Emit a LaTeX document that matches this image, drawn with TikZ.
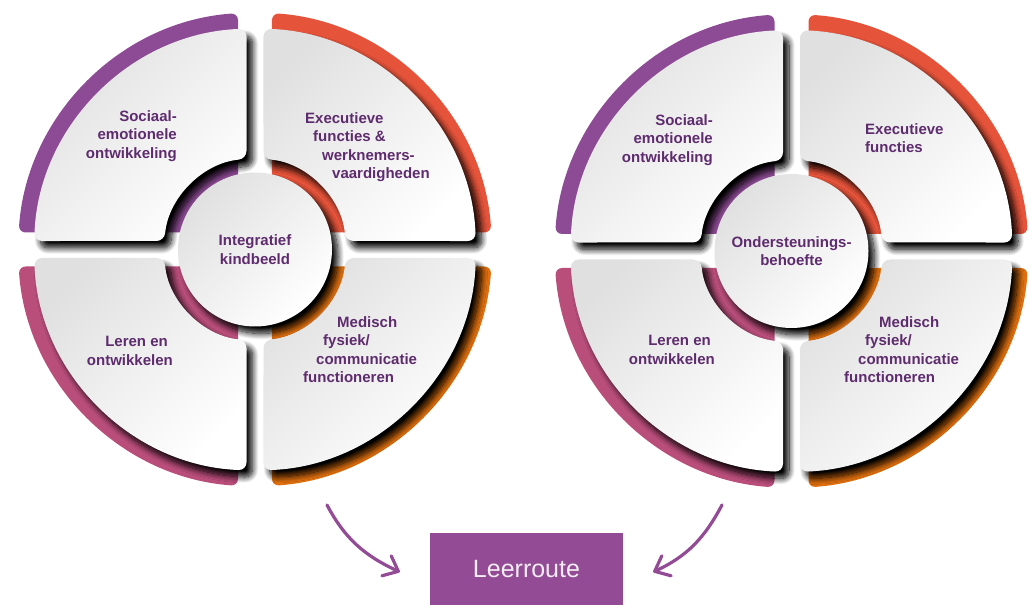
\documentclass[tikz,border=0pt]{standalone}
\usepackage{fontspec}
\setmainfont{Liberation Sans}
\usetikzlibrary{shadows.blur,arrows.meta,calc}
\definecolor{cpurple}{HTML}{8E4B95}
\definecolor{cred}{HTML}{E5533A}
\definecolor{cpink}{HTML}{B94E7B}
\definecolor{corange}{HTML}{E0700F}
\definecolor{ctext}{HTML}{5E2C6E}
\definecolor{cbox}{HTML}{924B94}
\newcommand\lblfont{\fontsize{15}{18.6}\selectfont\bfseries}
\newcommand\quarterpath[6]{%
  \pgfmathsetmacro\qao{asin(#3/#5)}%
  \pgfmathsetmacro\qai{asin(#3/#4)}%
  \path[#6] ($(#1)+(#2+\qao:#5pt)$) arc[start angle=#2+\qao, end angle=#2+90-\qao, radius=#5pt]
     -- ($(#1)+(#2+90-\qai:#4pt)$) arc[start angle=#2+90-\qai, end angle=#2+\qai, radius=#4pt] -- cycle;%
}
\tikzset{
  darkshadow/.style={blur shadow={shadow xshift=6pt, shadow yshift=-7pt, shadow blur radius=6pt, shadow opacity=100, shadow blur steps=14}},
  band/.style={fill=#1, rounded corners=7pt},
  whiteq/.style={rounded corners=8pt, top color=black!12, bottom color=white, shading angle=45, darkshadow},
  hub/.style={circle, minimum size=154pt, inner sep=0pt, align=center, font=\lblfont, text=ctext,
    top color=black!12, bottom color=white, shading angle=45, darkshadow},
  lbl/.style={inner sep=0pt, font=\lblfont, text=ctext},
  arr/.style={draw=cbox, line width=3.2pt, line cap=round, -{Straight Barb[round, length=13pt, width=22pt]}},
}
\begin{document}
\begin{tikzpicture}[x=1pt,y=1pt]
\useasboundingbox (0,0) rectangle (1031,605);
\coordinate (C1) at (255,355.5);
\coordinate (C2) at (791.5,354);
% ---- left diagram ----
\quarterpath{C1}{90}{17}{70}{237}{band=cpurple}
\quarterpath{C1}{0}{17}{70}{237}{band=cred}
\quarterpath{C1}{180}{17}{70}{237}{band=cpink}
\quarterpath{C1}{270}{17}{70}{237}{band=corange}
\quarterpath{C1}{90}{8.5}{91}{221}{whiteq}
\quarterpath{C1}{0}{8.5}{91}{221}{whiteq}
\quarterpath{C1}{180}{8.5}{91}{221}{whiteq}
\quarterpath{C1}{270}{8.5}{91}{221}{whiteq}
\node[hub] (ctr1) at (C1) {Integratief\\kindbeeld};
\node[lbl, anchor=north east, align=right] (soc1) at (177,495) {Sociaal-\\emotionele\\ontwikkeling};
\node[lbl, anchor=north west, align=left] (exe1) at (305,493) {Executieve\\\hspace*{8pt}functies \&\\\hspace*{17pt}werknemers-\\\hspace*{27pt}vaardigheden};
\node[lbl, anchor=north west, align=left] (med1) at (303,289) {\hspace*{34pt}Medisch\\\hspace*{20pt}fysiek/\\\hspace*{13pt}communicatie\\functioneren};
\node[lbl, anchor=north east, align=right] (ler1) at (173,269) {Leren en\hspace*{5pt}\\ontwikkelen};
% ---- right diagram ----
\quarterpath{C2}{90}{17}{70}{237}{band=cpurple}
\quarterpath{C2}{0}{17}{70}{237}{band=cred}
\quarterpath{C2}{180}{17}{70}{237}{band=cpink}
\quarterpath{C2}{270}{17}{70}{237}{band=corange}
\quarterpath{C2}{90}{8.5}{91}{221}{whiteq}
\quarterpath{C2}{0}{8.5}{91}{221}{whiteq}
\quarterpath{C2}{180}{8.5}{91}{221}{whiteq}
\quarterpath{C2}{270}{8.5}{91}{221}{whiteq}
\node[hub] (ctr2) at (C2) {Ondersteunings-\\behoefte};
\node[lbl, anchor=north east, align=right] (soc2) at (713,491) {Sociaal-\\emotionele\\ontwikkeling};
\node[lbl, anchor=north west, align=left] (exe2) at (865,482) {Executieve\\functies};
\node[lbl, anchor=north west, align=left] (med2) at (844,289) {\hspace*{35pt}Medisch\\\hspace*{21pt}fysiek/\\\hspace*{14pt}communicatie\\functioneren};
\node[lbl, anchor=north east, align=right] (ler2) at (715,270) {Leren en\hspace*{4pt}\\ontwikkelen};
% ---- bottom ----
\node[fill=cbox, minimum width=193pt, minimum height=72pt, inner sep=0pt, text=white!90!cbox,
  font=\fontsize{25}{30}\selectfont] (box) at (526.5,36) {Leerroute};
\coordinate (s1) at (327,100);
\coordinate (s2) at (722,100);
\draw[arr] (s1) to[out=-62, in=155] ([xshift=-30pt,yshift=-3pt]box.west);
\draw[arr] (s2) to[out=-118, in=25] ([xshift=30pt,yshift=-3pt]box.east);
\end{tikzpicture}
\end{document}
